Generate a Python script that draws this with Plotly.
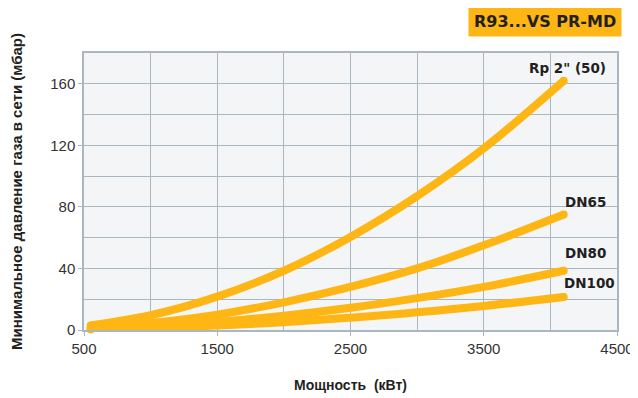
import plotly.graph_objects as go

# Data
power_kw = [550, 1000, 1500, 2000, 2500, 3000, 3500, 4100]
rp2_50 = [3.0, 9.6, 21.7, 38.5, 60.5, 87.0, 118.0, 162.0]
dn65 = [1.5, 4.5, 10.0, 18.0, 28.0, 40.0, 55.0, 75.0]
dn80 = [0.8, 2.3, 5.2, 9.2, 14.4, 20.7, 28.0, 38.5]
dn100 = [0.4, 1.3, 2.9, 5.1, 8.0, 11.5, 15.6, 21.5]
series_names = ['Rp 2" (50)', "DN65", "DN80", "DN100"]
x_ticks = [500, 1500, 2500, 3500, 4500]
y_ticks = [0, 40, 80, 120, 160]

curve_color = "#FDB614"
grid_color = "#A9B7C1"
font_main = "Liberation Sans Narrow, Liberation Sans, Arial"
font_bold = "Liberation Sans, Arial"
font_heavy = "DejaVu Sans, Arial"

fig = go.Figure()
for name, ys in zip(series_names, [rp2_50, dn65, dn80, dn100]):
    fig.add_trace(go.Scatter(
        x=power_kw, y=ys, mode="lines", name=name,
        line=dict(color=curve_color, width=8, shape="spline"),
        showlegend=False, cliponaxis=False,
    ))
    # rounded ends
    fig.add_trace(go.Scatter(
        x=[power_kw[0], power_kw[-1]], y=[ys[0], ys[-1]], mode="markers",
        marker=dict(color=curve_color, size=8), showlegend=False,
        hoverinfo="skip", cliponaxis=False,
    ))

# curve labels
label_pos = [(4432, 170, series_names[0]), (4432, 83, series_names[1]),
             (4432, 50, series_names[2]), (4500, 30.5, series_names[3])]
for lx, ly, txt in label_pos:
    fig.add_annotation(x=lx, y=ly, text="<b>%s</b>" % txt, showarrow=False,
                       xanchor="right", yanchor="middle",
                       font=dict(family=font_heavy, size=13.5, color="#231F20"))

# title box
fig.add_annotation(xref="paper", yref="paper", x=1.01, y=1.112,
                   text="<b>R93...VS PR-MD</b>", showarrow=False,
                   xanchor="right", yanchor="middle",
                   bgcolor=curve_color, borderpad=5,
                   font=dict(family=font_heavy, size=16, color="#231F20"))

fig.update_xaxes(
    range=[500, 4500], tickvals=x_ticks, ticks="outside", ticklen=4,
    tickcolor=grid_color, showgrid=True, gridcolor=grid_color, gridwidth=1,
    minor=dict(dtick=500, tick0=500, showgrid=True, gridcolor=grid_color, gridwidth=1),
    showline=True, linecolor=grid_color, linewidth=1.5, mirror=True, zeroline=False,
    tickfont=dict(family=font_main, size=15, color="#333333"),
    automargin=False,
    title=dict(text="<b>Мощность  (кВт)</b>", standoff=24,
               font=dict(family=font_bold, size=14, color="#231F20")),
)
fig.update_yaxes(
    range=[0, 180], tickvals=y_ticks, ticks="outside", ticklen=4,
    tickcolor=grid_color, showgrid=True, gridcolor=grid_color, gridwidth=1,
    minor=dict(dtick=20, tick0=0, showgrid=True, gridcolor=grid_color, gridwidth=1),
    showline=True, linecolor=grid_color, linewidth=1.5, mirror=True, zeroline=False,
    tickfont=dict(family=font_main, size=15, color="#333333"),
    automargin=False,
    title=dict(text="<b>Минимальное давление газа в сети (мбар)</b>", standoff=28,
               font=dict(family=font_bold, size=15, color="#231F20")),
)

# the page adds an 8px body margin, so the figure is drawn 8px smaller/offset
fig.update_layout(
    width=630, height=390,
    margin=dict(l=76, r=21, t=45, b=68),
    paper_bgcolor="white", plot_bgcolor="#F3F5F7",
)

fig.write_html("out.html")
